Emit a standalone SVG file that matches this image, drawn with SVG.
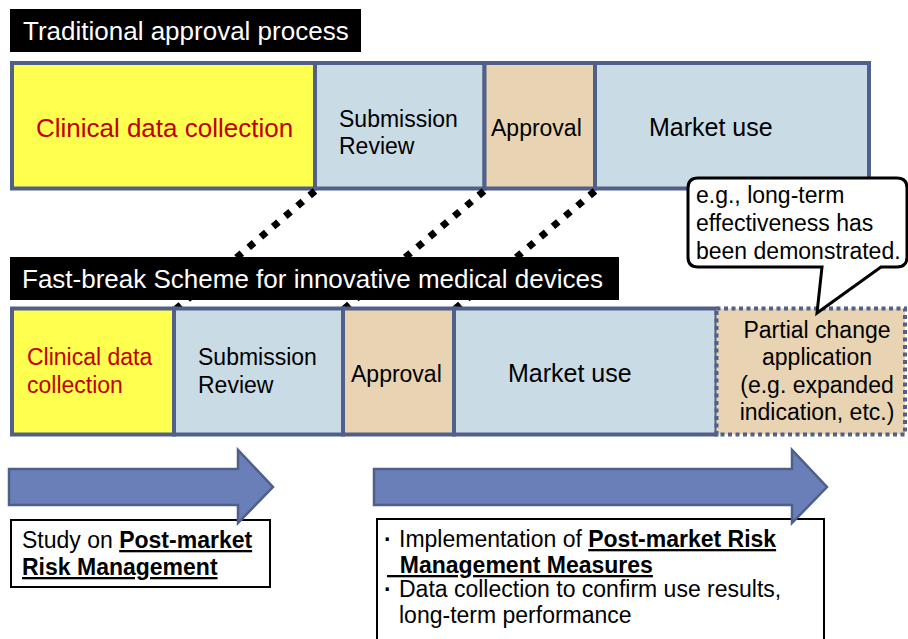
<svg xmlns="http://www.w3.org/2000/svg" width="908" height="639" viewBox="0 0 908 639">
<style>
text{font-family:"Liberation Sans",Arial,sans-serif;fill:#000}
.bar{fill:#000}
.bt{fill:#fff;font-size:26px}
.cell{stroke:#50608a;stroke-width:4}
.y{fill:#ffff4f}
.b{fill:#c9dbe5}
.t{fill:#e8d3b3}
.red{fill:#c00000}
.s23{font-size:23px}
.s25{font-size:25px}
.s26{font-size:26px}
.dot{stroke:#000;stroke-width:7;stroke-dasharray:7 9;fill:none}
.arr{fill:#6a7fb8;stroke:#4e5f8c;stroke-width:2.5}
.box{fill:#fff;stroke:#000;stroke-width:2}
.bu{font-weight:bold;text-decoration:underline}
.md{font-weight:bold}
</style>

<g id="title-traditional">
<rect class="bar" x="10" y="9" width="351" height="43"/>
<text class="bt" x="23" y="40">Traditional approval process</text>
</g>

<g id="top-row">
<rect class="cell y" x="12" y="63" width="303" height="125.5"/>
<rect class="cell b" x="315" y="63" width="169.5" height="125.5"/>
<rect class="cell t" x="484.5" y="63" width="110.5" height="125.5"/>
<rect class="cell b" x="595" y="63" width="274" height="125.5"/>
<text class="s26 red" x="164.5" y="137" text-anchor="middle">Clinical data collection</text>
<text class="s23" x="339" y="127">Submission</text>
<text class="s23" x="339" y="154">Review</text>
<text class="s23" x="491" y="136">Approval</text>
<text class="s25" x="649" y="136">Market use</text>
</g>

<g id="connectors">
<line class="dot" x1="315" y1="191" x2="176" y2="309"/>
<line class="dot" x1="484" y1="191" x2="344" y2="309"/>
<line class="dot" x1="595" y1="191" x2="455" y2="309"/>
</g>

<g id="title-fastbreak">
<rect class="bar" x="10" y="257" width="609" height="43"/>
<text class="bt" x="22" y="288">Fast-break Scheme for innovative medical devices</text>
</g>

<g id="bottom-row">
<rect class="cell y" x="12" y="308.5" width="162" height="126"/>
<rect class="cell b" x="174" y="308.5" width="169" height="126"/>
<rect class="cell t" x="343" y="308.5" width="111" height="126"/>
<rect class="cell b" x="454" y="308.5" width="262.5" height="126"/>
<text class="s23 red" x="27" y="365">Clinical data</text>
<text class="s23 red" x="27" y="393">collection</text>
<text class="s23" x="198" y="365">Submission</text>
<text class="s23" x="198" y="393">Review</text>
<text class="s23" x="351" y="382">Approval</text>
<text class="s25" x="508" y="382">Market use</text>
</g>

<g id="partial-change">
<rect x="716.5" y="308.5" width="188.5" height="126" fill="#e8d3b3" stroke="#50608a" stroke-width="4" stroke-dasharray="4 3.5"/>
<text class="s23" x="817" y="338" text-anchor="middle">Partial change</text>
<text class="s23" x="817" y="365" text-anchor="middle">application</text>
<text class="s23" x="817" y="393" text-anchor="middle">(e.g. expanded</text>
<text class="s23" x="817" y="420" text-anchor="middle">indication, etc.)</text>
</g>

<g id="callout">
<path d="M698,178 H897 Q907,178 907,188 V257 Q907,267 897,267 H881 L817,313 L822,267 H698 Q688,267 688,257 V188 Q688,178 698,178 Z" fill="#fff" stroke="#000" stroke-width="3" stroke-linejoin="miter"/>
<text class="s23" x="696" y="203">e.g., long-term</text>
<text class="s23" x="696" y="231">effectiveness has</text>
<text class="s23" x="696" y="259">been demonstrated.</text>
</g>

<g id="box-study">
<rect class="box" x="11" y="520" width="259" height="67"/>
<text class="s23" x="22" y="548">Study on <tspan class="bu">Post-market</tspan></text>
<text class="s23 bu" x="22" y="575">Risk Management</text>
</g>

<g id="box-implementation">
<rect class="box" x="377" y="519" width="447" height="130"/>
<text class="s23" x="384" y="547"><tspan class="md">·</tspan><tspan x="399">Implementation of </tspan><tspan class="bu">Post-market Risk</tspan></text>
<text class="s23 bu" x="387" y="573" style="white-space:pre" xml:space="preserve">  Management Measures</text>
<text class="s23" x="384" y="597"><tspan class="md">·</tspan><tspan x="399">Data collection to confirm use results,</tspan></text>
<text class="s23" x="399" y="623">long-term performance</text>
</g>

<g id="arrow-1">
<polygon class="arr" points="9,469 238,469 238,450 273,487 238,523 238,505 9,505"/>
</g>
<g id="arrow-2">
<polygon class="arr" points="374,469 792,469 792,450 827,487 792,523 792,505 374,505"/>
</g>
</svg>
